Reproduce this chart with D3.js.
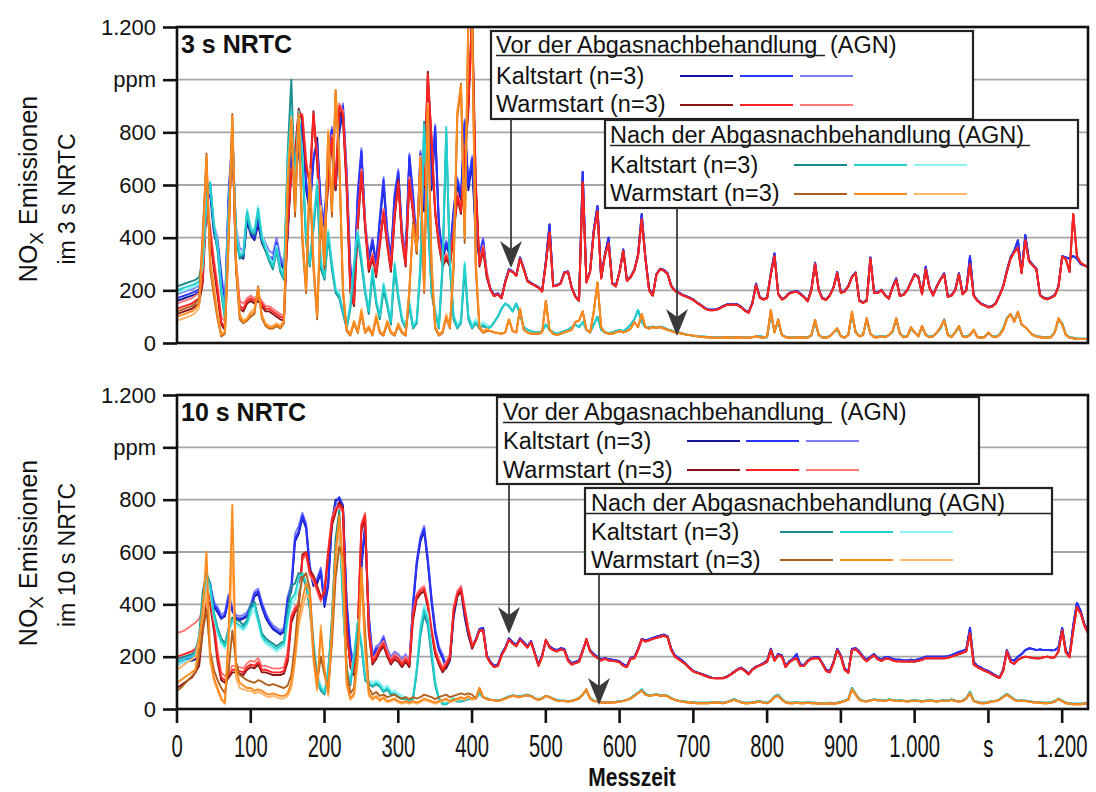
<!DOCTYPE html>
<html>
<head>
<meta charset="utf-8">
<script src="https://cdn.jsdelivr.net/npm/d3@7"></script>
<style>
  body { margin: 0; background: #fff; }
  text { font-family: "Liberation Sans", Arial, sans-serif; fill: #111; }
</style>
</head>
<body>
<svg id="chart" width="1096" height="792"></svg>
<script>
// Zeitraster: 0 ... 1235 s in 5-s-Schritten
const zeit = d3.range(0, 1240, 5);

const yTicks = [0, 200, 400, 600, 800, 1000, 1200];
const yTickLabels = ["0", "200", "400", "600", "800", "ppm", "1.200"];
const xTicks = [0, 100, 200, 300, 400, 500, 600, 700, 800, 900, 1000, 1100, 1200];
const xTickLabels = ["0", "100", "200", "300", "400", "500", "600", "700", "800", "900", "1.000", "s", "1.200"];

// ---------- 3 s NRTC: 0–420 s, je drei Messungen (dunkel, mittel, hell) ----------
const nrtc3VorKaltFrueh = [
  [160,165,170,175,180,185,195,280,600,560, 420,360,240,120,540,760,400,330,320,460, 410,390,450,380,350,320,310,370,300,280,
   400,680,600,740,820,580,500,690,780,500, 440,700,800,580,800,880,620,260,190,540, 720,440,310,380,290,460,600,400,310,540,
   640,400,320,700,540,350,710,500,940,580, 800,440,320,370,330,490,600,540,830,580, 680,400,320,380,250],
  [170,175,180,185,190,195,205,300,520,590, 430,380,250,130,560,780,420,340,330,480, 420,400,470,390,360,330,320,380,310,290,
   420,700,620,760,840,600,520,700,760,520, 450,720,810,600,820,900,640,280,200,560, 730,450,320,390,300,470,620,420,320,560,
   650,420,330,710,560,360,720,520,960,600, 820,450,330,380,340,500,620,560,840,600, 700,420,330,390,260],
  [185,190,195,200,205,210,220,320,500,610, 450,400,270,150,580,790,440,360,350,500, 440,420,490,410,380,350,340,400,330,300,
   440,720,640,770,850,620,540,720,750,540, 460,730,820,620,840,910,660,300,220,580, 740,470,330,400,310,480,630,430,330,570,
   660,430,340,720,570,370,730,530,970,620, 830,460,340,390,350,510,630,570,850,610, 710,430,340,400,270]
];
const nrtc3VorWarmFrueh = [
  [110,115,120,125,130,140,150,230,520,400, 280,180,70,50,430,800,280,130,120,150, 160,150,160,140,120,120,110,100,90,85,
   430,640,720,890,840,660,620,880,680,400, 400,600,760,580,880,850,580,190,140,430, 640,440,270,320,250,370,490,370,270,470,
   620,390,290,610,490,340,690,590,1030,760, 490,370,290,320,290,410,550,490,690,880, 1260,620,290,350,250],
  [130,135,140,145,150,160,170,250,550,420, 300,200,80,60,450,820,300,140,130,160, 170,160,170,150,130,130,120,110,100,95,
   450,650,700,880,860,680,600,870,700,420, 420,620,780,600,900,870,600,200,150,450, 650,450,280,330,260,380,500,380,280,480,
   610,400,300,620,500,350,700,600,1020,780, 500,380,300,330,300,420,560,500,700,900, 1250,600,300,360,260],
  [150,155,160,165,170,180,190,270,560,440, 320,220,100,80,470,830,320,160,150,170, 180,170,180,160,140,140,130,120,110,105,
   460,660,690,860,870,700,590,850,710,440, 430,630,790,620,910,880,620,220,170,460, 660,460,290,340,270,390,510,390,290,490,
   600,410,310,630,510,360,710,610,1000,790, 510,390,310,340,310,430,570,510,710,910, 1200,580,310,370,270]
];
const nrtc3NachKaltFrueh = [
  [215,220,225,230,235,240,250,320,580,600, 440,350,190,90,480,800,400,320,330,490, 420,410,500,390,350,310,280,350,270,240,
   720,1000,580,860,680,380,290,430,580,280, 240,400,280,190,170,110,55,130,280,400, 300,190,110,260,150,90,200,140,70,280,
   170,85,55,140,55,75,280,840,480,190, 110,55,280,800,280,90,55,75,280,90, 55,75,55,65,55],
  [200,205,210,215,220,225,235,300,560,610, 450,360,200,100,500,810,420,330,340,500, 430,420,510,400,360,320,290,360,280,250,
   700,880,600,880,700,400,300,450,600,300, 250,420,300,200,180,120,60,140,300,420, 320,200,120,280,160,100,220,150,80,300,
   180,90,60,150,60,80,300,830,500,200, 120,60,300,820,300,100,60,80,300,100, 60,80,60,70,60],
  [190,195,200,205,210,215,225,290,540,590, 460,370,210,110,510,790,430,340,350,510, 440,430,520,410,370,330,300,370,290,260,
   680,860,620,850,720,420,310,460,620,320, 260,430,310,210,190,130,70,150,310,430, 330,210,130,290,170,110,230,160,90,310,
   190,100,70,160,70,90,310,800,510,210, 130,70,310,780,310,110,70,90,310,110, 70,90,70,80,70]
];
const nrtc3NachWarmFrueh = [
  [120,125,130,135,140,150,170,420,720,280, 180,90,25,35,380,870,280,90,75,85, 100,110,215,95,65,55,55,65,55,75,
   560,820,480,850,380,190,620,280,90,480, 280,780,480,960,680,190,45,28,75,38, 110,38,55,28,95,38,28,75,38,28,
   65,38,28,190,460,340,690,190,880,280, 55,28,38,95,55,280,860,985,380,1250, 1250,280,55,38,45],
  [100,105,110,115,120,130,150,400,710,300, 200,100,30,40,400,860,300,100,80,90, 110,120,210,100,70,60,60,70,60,80,
   600,850,500,870,400,200,650,300,100,500, 300,800,500,960,700,200,50,30,80,40, 120,40,60,30,100,40,30,80,40,30,
   70,40,30,200,450,350,700,200,900,300, 60,30,40,100,60,300,880,980,400,1250, 1250,300,60,40,50],
  [85,90,95,100,105,115,135,380,690,320, 220,110,35,45,420,840,320,110,85,95, 120,130,200,110,75,65,65,75,65,85,
   620,860,520,860,420,210,660,320,110,520, 320,810,520,940,720,210,55,35,85,45, 130,45,65,35,110,45,35,85,45,35,
   75,45,35,210,440,360,710,210,910,320, 65,35,45,110,65,320,870,960,420,1200, 1200,320,65,45,55]
];

// ---------- 3 s NRTC: 425–1235 s (Messungen decken sich) ----------
const nrtc3VorKaltSpaet = [
  205,182,188,172,235,280,272,258,325,285, 238,228,220,212,198,310,450,218,220,228, 268,272,212,178,162,650,235,272,430,520,
  248,335,400,228,218,272,355,238,252,278, 335,490,325,205,182,262,282,278,265,218, 200,192,184,178,172,165,154,145,134,127,
  126,127,132,140,146,147,147,146,137,124, 117,152,225,174,167,172,265,340,188,167, 174,190,194,198,188,176,160,205,305,202,
  170,166,182,212,270,192,197,216,252,268, 162,154,162,325,192,192,202,182,170,212, 245,180,185,202,232,262,252,187,290,212,
  182,216,242,265,177,182,202,265,187,202, 330,182,162,150,144,137,140,152,182,216, 275,325,350,390,270,410,315,298,282,182,
  172,168,174,182,216,330,325,320,330,320, 300,295,290
];
const nrtc3VorWarmSpaet = [
  200,178,185,170,230,275,270,255,320,280, 235,225,218,210,195,300,420,215,218,225, 265,270,210,175,160,610,230,270,420,500,
  245,330,380,225,215,270,350,235,250,275, 330,470,320,200,180,260,280,275,262,215, 198,190,182,176,170,163,152,143,132,125,
  124,125,130,138,144,145,145,144,135,122, 115,150,220,172,165,170,260,330,185,165, 172,188,192,195,185,174,158,200,300,200,
  168,164,180,210,265,190,195,214,250,265, 160,152,160,320,190,190,200,180,168,210, 240,178,183,200,230,260,250,185,280,210,
  180,214,240,260,175,180,200,260,185,200, 300,180,160,148,142,135,138,150,180,214, 270,320,345,362,265,390,310,295,280,180,
  170,166,172,180,214,328,318,270,490,330, 305,295,288
];
const nrtc3NachKaltSpaet = [
  60,80,100,130,150,140,120,150,110,60, 50,45,40,40,45,70,50,40,35,40, 45,50,60,70,60,80,50,40,70,100,
  50,40,38,40,45,50,45,55,70,90, 125,80,60,60,62,60,62,58,52,48, 42,40,36,33,30,28,26,25,24,23,
  22,22,21,21,22,22,21,23,22,21, 21,22,24,26,23,22,110,45,80,30, 24,22,21,22,22,22,22,28,80,30,
  22,22,26,40,50,26,22,30,110,42, 26,30,90,35,24,24,26,24,30,42, 90,36,24,26,55,40,26,60,32,24,
  26,40,55,90,32,24,40,60,26,24, 32,48,24,22,24,38,26,24,32,55, 95,110,85,115,70,60,45,32,26,24,
  22,22,24,42,90,75,32,22,20,17, 16,16,16
];
const nrtc3NachWarmSpaet = [
  45,40,38,35,40,90,45,40,130,50, 40,35,35,35,40,160,50,35,30,35, 40,45,50,80,85,120,50,40,120,230,
  60,40,35,35,40,45,40,45,55,80, 60,110,60,55,60,58,60,55,50,45, 40,38,35,32,30,28,25,24,22,22,
  20,20,20,20,22,20,20,22,20,20, 20,22,25,22,20,25,125,40,90,30, 22,20,20,20,22,20,20,30,87,30,
  20,20,25,40,56,25,20,30,119,40, 25,30,94,35,22,22,25,22,30,45, 94,35,22,25,60,40,25,65,30,22,
  25,40,60,87,30,22,40,65,25,22, 30,50,22,20,22,40,25,22,30,50, 90,110,80,119,70,60,45,30,25,22,
  20,20,22,40,94,70,30,20,18,15, 15,15,15
];

// ---------- 10 s NRTC: 0–400 s, je drei Messungen ----------
const nrtc10VorKaltFrueh = [
  [170,175,180,182,185,190,220,380,510,470, 390,370,345,355,420,375,345,340,345,355, 380,430,440,390,350,325,305,295,285,295,
   410,450,640,670,730,690,530,470,480,520, 390,470,710,800,800,770,390,220,140,240, 540,690,340,190,220,235,260,215,185,205,
   195,175,195,165,390,550,640,680,560,410, 290,225,195,155,185,350,430,455,350,280, 235],
  [180,185,190,190,195,200,230,400,500,480, 400,380,350,360,430,380,350,345,350,360, 390,440,450,400,360,330,310,300,290,300,
   420,460,650,680,740,700,540,480,490,530, 400,480,720,790,810,780,400,230,150,250, 550,700,350,200,230,240,270,220,190,210,
   200,180,200,170,400,560,650,690,570,420, 300,230,200,160,190,360,440,460,360,290, 240],
  [190,195,198,200,205,210,240,410,490,470, 410,390,360,370,440,390,360,355,360,370, 400,450,460,410,370,340,320,310,300,310,
   430,480,670,700,750,710,550,490,500,540, 410,490,730,780,790,770,420,240,160,260, 560,710,360,210,240,250,280,230,200,220,
   210,190,210,180,410,570,660,700,580,430, 310,240,210,170,200,370,450,470,370,300, 250]
];
const nrtc10VorWarmFrueh = [
  [80,90,100,110,120,140,165,300,420,400, 300,180,110,100,120,140,140,135,130,150, 160,155,170,140,140,135,130,130,130,135,
   180,330,370,390,590,600,530,510,470,430, 440,590,700,750,790,770,320,160,130,280, 680,730,290,170,190,220,240,200,170,190,
   180,160,180,160,340,420,440,450,390,290, 210,170,140,160,190,370,430,450,370,290, 230],
  [200,205,210,215,220,230,250,350,450,420, 320,200,120,110,130,150,150,145,140,160, 170,165,180,150,150,145,140,140,140,145,
   200,350,380,400,580,600,520,500,460,420, 450,600,720,760,780,760,300,170,140,300, 700,740,300,180,200,230,250,210,180,200,
   190,170,190,170,360,430,450,460,400,300, 220,180,150,170,200,380,440,460,380,300, 240],
  [290,295,300,310,320,330,345,380,460,430, 340,220,140,125,145,165,165,160,155,175, 185,180,195,165,165,160,155,155,155,160,
   220,360,390,410,570,590,510,490,450,410, 460,610,730,770,770,750,290,180,150,310, 710,750,310,190,210,240,260,220,190,210,
   200,180,200,180,370,440,460,470,410,310, 230,190,160,180,210,390,450,470,390,310, 250]
];
const nrtc10NachKaltFrueh = [
  [190,195,200,205,210,220,280,450,520,480, 370,310,270,250,310,350,340,335,320,340, 400,410,350,290,270,260,250,240,250,260,
   380,470,480,520,510,470,380,230,110,70, 55,140,350,650,760,420,140,90,190,320, 240,110,95,85,95,85,65,75,55,55,
   45,38,38,28,38,140,280,360,320,200, 90,38,18,18,28,38,28,28,32,38, 38],
  [180,185,190,195,200,210,260,420,510,470, 360,300,260,240,300,340,330,320,310,330, 380,400,340,280,260,250,240,230,240,250,
   350,420,440,500,520,480,400,250,120,80, 60,150,320,600,730,400,150,100,200,330, 250,120,100,90,100,90,70,80,60,60,
   50,40,40,30,40,150,300,380,340,220, 100,40,20,20,30,40,30,30,35,40, 40],
  [170,175,180,185,190,200,240,400,490,450, 350,290,250,230,290,330,320,310,300,320, 360,380,330,270,250,240,230,220,230,240,
   330,400,420,460,500,470,410,270,140,90, 70,160,300,560,700,380,160,110,210,340, 260,130,110,100,110,100,80,90,70,70,
   60,50,45,35,45,160,320,400,360,240, 110,45,25,22,32,42,32,32,38,42, 42]
];
const nrtc10NachWarmFrueh = [
  [70,80,95,110,125,140,200,300,380,220, 150,110,80,60,150,300,180,130,120,110, 105,100,110,105,95,90,95,90,85,80,
   90,130,250,420,500,520,460,230,100,200, 130,80,250,500,620,580,150,60,80,250, 530,300,80,55,65,50,55,45,50,55,
   45,40,45,38,45,40,45,55,50,45, 38,45,50,55,45,50,55,60,55,60, 55],
  [100,110,120,130,140,150,250,390,600,200, 120,80,40,25,300,780,150,100,90,80, 80,70,75,70,60,55,60,55,50,50,
   60,100,200,350,420,480,450,200,80,300, 150,60,300,600,740,550,100,40,60,200, 540,250,60,40,50,35,45,30,35,40,
   30,25,30,25,30,25,30,40,35,30, 25,30,35,40,30,35,40,45,40,50, 40],
  [150,160,170,180,190,200,270,350,450,180, 110,70,35,20,250,600,120,80,75,70, 70,60,65,60,50,45,50,45,40,40,
   50,80,180,320,380,440,420,180,70,320, 140,50,280,560,700,500,90,35,50,180, 500,220,50,35,45,30,40,25,30,35,
   25,20,25,20,25,20,25,35,30,25, 20,25,30,35,25,30,35,40,35,45, 35]
];

// ---------- 10 s NRTC: 405–1235 s ----------
const nrtc10VorKaltSpaet = [
  265,305,310,205,180,165,170,210,235,270, 255,245,270,255,240,260,215,170,205,260, 240,230,225,232,230,190,175,180,185,225,
  260,225,210,200,190,195,190,188,186,182, 170,165,196,198,230,268,262,266,272,276, 280,284,278,230,205,195,185,172,158,145,
  140,135,130,125,120,118,118,118,124,132, 142,152,158,148,135,152,162,168,175,185, 230,188,210,205,165,182,192,210,170,168,
  185,195,198,198,175,150,145,180,230,205, 155,142,230,232,220,200,188,200,210,195, 190,198,198,192,188,188,186,186,188,186,
  190,194,200,200,200,200,200,200,202,206, 212,218,222,228,310,180,165,158,150,145, 136,128,120,150,225,190,185,200,210,225,
  232,230,225,228,225,226,224,225,235,310, 222,205,320,405,375,325,295
];
const nrtc10VorWarmSpaet = [
  260,300,300,200,175,160,165,205,230,265, 250,240,265,250,235,255,210,165,200,265, 235,225,220,228,225,185,170,175,180,220,
  268,220,205,195,185,192,186,184,182,178, 165,160,192,194,225,265,258,262,268,272, 276,280,275,225,200,190,180,170,155,143,
  138,133,128,122,118,117,117,117,122,130, 140,150,155,145,132,150,160,166,172,180, 225,185,205,200,160,178,188,194,165,165,
  182,192,194,194,172,145,140,175,225,200, 150,138,225,228,215,195,182,195,205,190, 184,192,192,186,182,182,181,181,182,181,
  184,188,194,194,194,194,194,194,196,200, 205,210,215,220,290,170,160,153,146,140, 132,125,118,145,220,180,172,188,195,200,
  198,195,194,194,198,200,196,198,220,300, 215,198,300,390,365,320,290
];
const nrtc10NachKaltSpaet = [
  40,60,45,40,36,34,32,36,42,48, 52,50,48,52,55,50,42,36,42,50, 46,40,34,32,32,30,32,36,42,55,
  70,42,32,30,27,26,27,27,28,30, 32,36,42,52,62,75,58,52,54,57, 52,54,50,42,36,32,30,28,26,25,
  24,24,24,24,26,27,26,24,26,32, 38,32,27,24,24,26,28,30,26,24, 32,48,55,38,27,24,24,26,24,24,
  26,24,24,22,22,22,24,22,24,27, 32,38,80,58,38,32,30,34,37,35, 34,32,37,35,32,34,32,30,32,34,
  32,30,32,34,32,30,32,34,32,37, 32,30,32,42,66,32,27,24,24,27, 30,32,37,48,58,48,37,32,34,32,
  30,28,27,26,24,24,26,30,40,32, 24,22,20,20,20,22,24
];
const nrtc10NachWarmSpaet = [
  40,80,45,38,35,33,30,35,40,45, 50,48,45,50,52,48,40,35,40,50, 45,38,32,30,30,28,30,35,40,55,
  75,40,30,28,25,24,25,25,26,28, 30,35,40,50,60,70,55,50,52,55, 50,52,48,40,35,30,28,26,25,24,
  22,22,22,22,24,25,24,22,25,30, 35,30,25,22,22,24,26,28,24,22, 30,45,50,35,25,22,22,24,22,22,
  24,22,22,20,20,20,22,20,22,25, 30,35,75,55,35,30,28,32,35,33, 32,30,35,33,30,32,30,28,30,32,
  30,28,30,32,30,28,30,32,30,35, 30,28,30,40,60,30,25,22,22,25, 28,30,35,45,55,45,35,30,32,30,
  28,26,25,24,22,22,24,28,38,30, 22,20,18,18,18,20,22
];

// Farben je Gruppe: dunkel, mittel, hell
const farbenVorKalt  = ["#15159c", "#2a34ff", "#7c7cff"];
const farbenVorWarm  = ["#8c1414", "#ff2323", "#ff7878"];
const farbenNachKalt = ["#1a8c8c", "#22d0d0", "#8cf2f2"];
const farbenNachWarm = ["#b0601c", "#ff8a1e", "#ffb466"];

const svg = d3.select("#chart");
const xL = 177, xR = 1088;
const x = d3.scaleLinear().domain([0, 1235]).range([xL, xR]);

const panels = [
  {
    id: "p3", top: 27, bottom: 343, titel: "3 s NRTC", zeile2: "im 3 s NRTC", yMitte1: 189, yMitte2: 199,
    gruppen: [
      { frueh: nrtc3VorKaltFrueh,  spaet: nrtc3VorKaltSpaet,  farben: farbenVorKalt },
      { frueh: nrtc3VorWarmFrueh,  spaet: nrtc3VorWarmSpaet,  farben: farbenVorWarm },
      { frueh: nrtc3NachKaltFrueh, spaet: nrtc3NachKaltSpaet, farben: farbenNachKalt },
      { frueh: nrtc3NachWarmFrueh, spaet: nrtc3NachWarmSpaet, farben: farbenNachWarm }
    ],
    leg1: { x: 491, y: 31, w: 482, h: 88, tx: 496, titelY: 53, zeilenY: [84, 112], linienY: [76, 105], linienX: [680, 740, 800], agnX: 830, ulEnde: 825 },
    leg2: { x: 605, y: 120, w: 473, h: 88, tx: 610, titelY: 143, zeilenY: [173, 201], linienY: [165, 194], linienX: [794, 854, 914], ulEnde: 1030, ulVoll: false },
    pfeile: [ { x: 511, y0: 119, y1: 268 }, { x: 677, y0: 208, y1: 336 } ]
  },
  {
    id: "p10", top: 395, bottom: 709, titel: "10 s NRTC", zeile2: "im 10 s NRTC", yMitte1: 553, yMitte2: 555,
    gruppen: [
      { frueh: nrtc10VorKaltFrueh,  spaet: nrtc10VorKaltSpaet,  farben: farbenVorKalt },
      { frueh: nrtc10VorWarmFrueh,  spaet: nrtc10VorWarmSpaet,  farben: farbenVorWarm },
      { frueh: nrtc10NachKaltFrueh, spaet: nrtc10NachKaltSpaet, farben: farbenNachKalt },
      { frueh: nrtc10NachWarmFrueh, spaet: nrtc10NachWarmSpaet, farben: farbenNachWarm }
    ],
    leg1: { x: 497, y: 397, w: 482, h: 87, tx: 503, titelY: 420, zeilenY: [449, 478], linienY: [441, 470], linienX: [687, 746, 806], agnX: 840, ulEnde: 832 },
    leg2: { x: 585, y: 488, w: 467, h: 86, tx: 591, titelY: 511, zeilenY: [540, 568], linienY: [532, 560], linienX: [780, 840, 900], ulEnde: 1052, ulVoll: true },
    pfeile: [ { x: 509, y0: 484, y1: 634 }, { x: 599, y0: 574, y1: 705 } ]
  }
];

panels.forEach(p => {
  const y = d3.scaleLinear().domain([0, 1200]).range([p.bottom, p.top]);
  const g = svg.append("g");

  // Gitterlinien
  g.selectAll("line.grid").data(yTicks.filter(v => v > 0 && v < 1200)).join("line")
    .attr("x1", xL).attr("x2", xR)
    .attr("y1", d => y(d)).attr("y2", d => y(d))
    .attr("stroke", "#a6a6a6").attr("stroke-width", 1.8);

  // Messkurven
  svg.append("clipPath").attr("id", "clip-" + p.id)
    .append("rect").attr("x", xL).attr("y", p.top).attr("width", xR - xL).attr("height", p.bottom - p.top);
  const lg = g.append("g").attr("clip-path", `url(#clip-${p.id})`);
  const linie = d3.line().x((d, i) => x(zeit[i])).y(d => y(d));
  p.gruppen.forEach(gr => {
    [2, 0, 1].forEach(k => {
      const werte = gr.frueh[k].concat(gr.spaet);
      if (werte.length !== zeit.length) throw new Error("Länge " + p.id + " " + werte.length);
      lg.append("path").datum(werte)
        .attr("d", linie)
        .attr("fill", "none")
        .attr("stroke", gr.farben[k])
        .attr("stroke-width", 1.9)
        .attr("stroke-linejoin", "round");
    });
  });

  // Rahmen
  g.append("rect").attr("x", xL).attr("y", p.top).attr("width", xR - xL).attr("height", p.bottom - p.top)
    .attr("fill", "none").attr("stroke", "#111").attr("stroke-width", 2.6);

  // y-Achse
  const ya = g.append("g").attr("transform", `translate(${xL},0)`)
    .call(d3.axisLeft(y).tickValues(yTicks).tickFormat((d, i) => yTickLabels[i]).tickSize(14).tickPadding(7));
  ya.select(".domain").remove();
  ya.selectAll(".tick line").attr("stroke", "#111").attr("stroke-width", 2.6);
  ya.selectAll(".tick text").attr("font-size", 22).attr("font-family", "Liberation Sans, Arial, sans-serif").attr("fill", "#111");

  // Titel im Diagramm
  g.append("text").attr("x", 181).attr("y", p.top + 26)
    .attr("font-size", 25).attr("font-weight", "bold").text(p.titel);

  // y-Achsentitel
  const t1 = g.append("text").attr("transform", `translate(37,${p.yMitte1}) rotate(-90)`)
    .attr("text-anchor", "middle").attr("font-size", 25);
  t1.append("tspan").text("NO");
  t1.append("tspan").attr("font-size", 19).attr("dy", 6).text("X");
  t1.append("tspan").attr("dy", -6).text(" Emissionen");
  g.append("text").attr("transform", `translate(75,${p.yMitte2}) rotate(-90)`)
    .attr("text-anchor", "middle").attr("font-size", 23).text(p.zeile2);

  // Legenden
  const legende = (L, titel, zeilen) => {
    const lgG = svg.append("g");
    lgG.append("rect").attr("x", L.x).attr("y", L.y).attr("width", L.w).attr("height", L.h)
      .attr("fill", "#fff").attr("stroke", "#222").attr("stroke-width", 2.2);
    lgG.append("text").attr("x", L.tx).attr("y", L.titelY).attr("font-size", 23.5).text(titel);
    if (L.agnX) lgG.append("text").attr("x", L.agnX).attr("y", L.titelY).attr("font-size", 23.5).text("(AGN)");
    lgG.append("line").attr("x1", L.ulVoll ? L.x : L.tx).attr("x2", L.ulEnde)
      .attr("y1", L.titelY + 2.5).attr("y2", L.titelY + 2.5)
      .attr("stroke", "#222").attr("stroke-width", 1.6);
    zeilen.forEach((z, i) => {
      lgG.append("text").attr("x", L.tx).attr("y", L.zeilenY[i]).attr("font-size", 23.5).text(z.label);
      z.farben.forEach((f, k) => {
        lgG.append("line").attr("x1", L.linienX[k]).attr("x2", L.linienX[k] + 53)
          .attr("y1", L.linienY[i]).attr("y2", L.linienY[i])
          .attr("stroke", f).attr("stroke-width", 2.2);
      });
    });
  };
  legende(p.leg1, "Vor der Abgasnachbehandlung", [
    { label: "Kaltstart (n=3)", farben: farbenVorKalt },
    { label: "Warmstart (n=3)", farben: farbenVorWarm }
  ]);
  legende(p.leg2, "Nach der Abgasnachbehandlung (AGN)", [
    { label: "Kaltstart (n=3)", farben: farbenNachKalt },
    { label: "Warmstart (n=3)", farben: farbenNachWarm }
  ]);

  // Pfeile
  p.pfeile.forEach(a => {
    svg.append("line").attr("x1", a.x).attr("x2", a.x).attr("y1", a.y0).attr("y2", a.y1 - 10)
      .attr("stroke", "#3a3a3a").attr("stroke-width", 1.8);
    svg.append("path")
      .attr("d", `M${a.x},${a.y1} L${a.x - 11},${a.y1 - 27} L${a.x},${a.y1 - 19} L${a.x + 11},${a.y1 - 27} Z`)
      .attr("fill", "#3a3a3a");
  });
});

// x-Achse (nur unten)
const yb = panels[1].bottom;
const xa = svg.append("g");
xa.selectAll("line").data(xTicks).join("line")
  .attr("x1", d => x(d)).attr("x2", d => x(d))
  .attr("y1", yb).attr("y2", yb + 14)
  .attr("stroke", "#111").attr("stroke-width", 2.6);
xa.selectAll("g.lab").data(xTicks).join("g")
  .attr("transform", d => `translate(${x(d)},757) scale(0.92,1.45)`)
  .append("text").attr("text-anchor", "middle").attr("font-size", 22)
  .text((d, i) => xTickLabels[i]);

svg.append("g").attr("transform", "translate(632,786) scale(1,1.25)")
  .append("text").attr("text-anchor", "middle").attr("font-size", 21).attr("font-weight", "bold")
  .text("Messzeit");
</script>
</body>
</html>
